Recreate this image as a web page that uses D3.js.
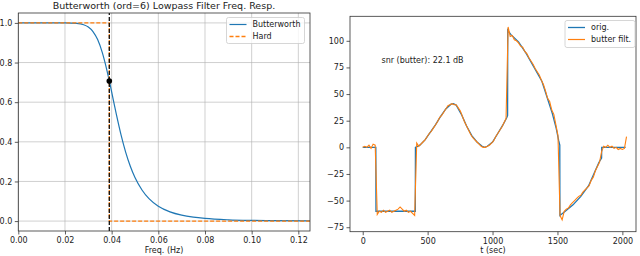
<!DOCTYPE html>
<html>
<head>
<meta charset="utf-8">
<script src="https://cdn.jsdelivr.net/npm/d3@7"></script>
<style>
  body { margin: 0; background: #fff; }
  svg { font-family: "DejaVu Sans", sans-serif; }
</style>
</head>
<body>
<svg id="chart" width="640" height="256"></svg>
<script>
// left: butterworth freq response
const cutoff = 0.039;
const freqs = [0, 0.01, 0.02, 0.025, 0.028, 0.030, 0.032, 0.034, 0.036, 0.038, 0.039, 0.040, 0.042, 0.044,
  0.046, 0.048, 0.050, 0.053, 0.056, 0.060, 0.065, 0.070, 0.075, 0.080, 0.090, 0.100, 0.110, 0.125];
const butterMag = [1, 1, 0.9998, 0.9976, 0.9908, 0.9792, 0.9565, 0.9157, 0.8504, 0.7598, 0.7071, 0.6516, 0.5397, 0.4364,
  0.3482, 0.2766, 0.2196, 0.1568, 0.1133, 0.075, 0.0466, 0.0299, 0.0198, 0.0134, 0.0066, 0.0035, 0.002, 0.0009];
const hardFreq = [0, cutoff, cutoff, 0.125];
const hardMag = [1, 1, 0, 0];
const freqTicks = [0, 0.02, 0.04, 0.06, 0.08, 0.10, 0.12];
const magTicks = [0, 0.2, 0.4, 0.6, 0.8, 1.0];

// right: signal vs filtered signal
const tOrig = [0, 101, 102, 405, 406, 440, 480, 520, 560, 600, 640, 680, 700, 720, 760, 800, 840, 880, 920, 940,
  960, 1000, 1040, 1080, 1110, 1116, 1117, 1140, 1200, 1260, 1320, 1380, 1420, 1460, 1490, 1510, 1518, 1519, 1560, 1620,
  1680, 1740, 1780, 1820, 1840, 1841, 2025];
const vOrig = [0, 0, -60, -60, 0, 2, 7, 14, 21, 29, 36, 40.5, 41, 39.5, 31, 20, 11, 5, 1, 0,
  1, 5, 13, 21, 28, 30, 110, 106, 99, 88, 75, 62, 47, 32, 18, 6, 2, -64, -60, -54,
  -46, -36, -25, -14, -10, 0, 0];
const tFilt = d3.range(0, 2048, 16);
const vFilt = [0, 1, 0, 2, -1, 3, 2,
  -63, -60, -61, -59, -61, -60, -59, -61, -60, -59, -58, -56, -58, -60, -59, -61, -60, -62, -64,
  4, 1, 3, 5, 7, 10, 13, 15, 18, 21, 24, 28, 30, 33, 36, 39, 40, 41, 40, 40, 37, 34, 29, 24, 20, 16,
  12, 9, 7, 5, 3, 1, 0, 0, 1, 2, 4, 6, 10, 13, 16, 19, 23, 27,
  113, 104, 105, 101, 100, 98, 95, 94, 90, 88, 84, 81, 78, 74, 71, 68, 63, 59, 53, 46, 43, 35, 31, 21, 11,
  -64, -68, -60, -58, -57, -54, -52, -50, -48, -46, -45, -42, -40, -38, -36, -31, -28, -22, -18, -14, -4,
  1, 0, 2, 0, 1, -1, 0, -2, -1, -2, -1, 10];
const tTicks = [0, 500, 1000, 1500, 2000];
const sigTicks = [-75, -50, -25, 0, 25, 50, 75, 100];
const snrText = 'snr (butter): 22.1 dB';

const blue = '#1f77b4', orange = '#ff7f0e';
const svg = d3.select('#chart');

function frame(g, x, y) {
  const [x0, x1] = x.range(), [y0, y1] = y.range();
  g.append('rect').attr('x', x0).attr('y', y1).attr('width', x1 - x0).attr('height', y0 - y1)
    .attr('fill', 'none').attr('stroke', '#333').attr('stroke-width', 0.8);
}

function axes(g, x, y, xt, yt, xf, yf) {
  const fmt = v => (v < 0 ? '\u2212' : '') + yf(Math.abs(v));
  g.append('g').attr('transform', `translate(0,${y.range()[0]})`)
    .call(d3.axisBottom(x).tickValues(xt).tickFormat(xf).tickSize(3.5).tickPadding(3))
    .call(s => s.select('.domain').remove());
  g.append('g').attr('transform', `translate(${x.range()[0]},0)`)
    .call(d3.axisLeft(y).tickValues(yt).tickFormat(fmt).tickSize(3.5).tickPadding(2.5))
    .call(s => s.select('.domain').remove());
  g.selectAll('.tick text').attr('font-size', 8).attr('fill', '#222').attr('font-family', 'DejaVu Sans');
  g.selectAll('.tick line').attr('stroke', '#333').attr('stroke-width', 0.8);
}

function legend(g, x, y, w, h, items) {
  g.append('rect').attr('x', x).attr('y', y).attr('width', w).attr('height', h).attr('rx', 2)
    .attr('fill', 'white').attr('fill-opacity', 0.8).attr('stroke', '#ccc').attr('stroke-width', 0.8);
  items.forEach((it, i) => {
    const cy = y + 7 + i * 12;
    g.append('line').attr('x1', x + 3).attr('x2', x + 20).attr('y1', cy).attr('y2', cy)
      .attr('stroke', it.color).attr('stroke-width', it.width).attr('stroke-dasharray', it.dash || null);
    g.append('text').attr('x', x + 26).attr('y', cy).attr('dy', '0.35em')
      .attr('font-size', 8).attr('fill', '#222').text(it.label);
  });
}

// ---- left chart
const xL = d3.scaleLinear().domain([0, 0.125]).range([18.3, 310]);
const yL = d3.scaleLinear().domain([-0.05, 1.05]).range([231, 13]);
const left = svg.append('g');

// grid
left.append('g').selectAll('line').data(freqTicks).join('line')
  .attr('x1', d => xL(d)).attr('x2', d => xL(d)).attr('y1', yL.range()[0]).attr('y2', yL.range()[1])
  .attr('stroke', '#b0b0b0').attr('stroke-width', 0.6);
left.append('g').selectAll('line').data(magTicks).join('line')
  .attr('y1', d => yL(d)).attr('y2', d => yL(d)).attr('x1', xL.range()[0]).attr('x2', xL.range()[1])
  .attr('stroke', '#b0b0b0').attr('stroke-width', 0.6);

const lineL = d3.line().x(d => xL(d[0])).y(d => yL(d[1]));
left.append('path').datum(d3.zip(freqs, butterMag))
  .attr('d', lineL.curve(d3.curveMonotoneX)).attr('fill', 'none').attr('stroke', blue).attr('stroke-width', 1.2);
left.append('path').datum(d3.zip(hardFreq, hardMag))
  .attr('d', d3.line().x(d => xL(d[0])).y(d => yL(d[1]))).attr('fill', 'none')
  .attr('stroke', orange).attr('stroke-width', 1.3).attr('stroke-dasharray', '4,2');
left.append('line').attr('x1', xL(cutoff)).attr('x2', xL(cutoff)).attr('y1', yL.range()[0]).attr('y2', yL.range()[1])
  .attr('stroke', '#111').attr('stroke-width', 1.3).attr('stroke-dasharray', '4,2');
left.append('circle').attr('cx', xL(cutoff)).attr('cy', yL(Math.SQRT1_2)).attr('r', 2.8).attr('fill', '#000');

frame(left, xL, yL);
axes(left, xL, yL, freqTicks, magTicks, d3.format('.2f'), d3.format('.1f'));
left.append('text').attr('x', 164).attr('y', 9).attr('text-anchor', 'middle').attr('font-size', 9.5)
  .attr('fill', '#222').text('Butterworth (ord=6) Lowpass Filter Freq. Resp.');
left.append('text').attr('x', 164).attr('y', 253).attr('text-anchor', 'middle').attr('font-size', 8)
  .attr('fill', '#222').text('Freq. (Hz)');
legend(left, 226.5, 17.5, 78, 26, [
  { label: 'Butterworth', color: blue, width: 1.2 },
  { label: 'Hard', color: orange, width: 1.3, dash: '4,2' }
]);

// ---- right chart
const xR = d3.scaleLinear().domain([-98, 2105]).range([350, 636]);
const yR = d3.scaleLinear().domain([-79.2, 123]).range([231.7, 16.3]);
const right = svg.append('g');
const lineR = d3.line().x(d => xR(d[0])).y(d => yR(d[1]));
right.append('path').datum(d3.zip(tOrig, vOrig)).attr('d', lineR)
  .attr('fill', 'none').attr('stroke', blue).attr('stroke-width', 1.3);
right.append('path').datum(d3.zip(tFilt, vFilt)).attr('d', lineR)
  .attr('fill', 'none').attr('stroke', orange).attr('stroke-width', 1.1);
frame(right, xR, yR);
axes(right, xR, yR, tTicks, sigTicks, d3.format('d'), d3.format('d'));
right.append('text').attr('x', 381.5).attr('y', 60.5).attr('dy', '0.35em').attr('font-size', 8)
  .attr('fill', '#222').text(snrText);
right.append('text').attr('x', 493).attr('y', 253).attr('text-anchor', 'middle').attr('font-size', 8)
  .attr('fill', '#222').text('t (sec)');
legend(right, 565, 20.5, 70, 27, [
  { label: 'orig.', color: blue, width: 1.3 },
  { label: 'butter filt.', color: orange, width: 1.2 }
]);
</script>
</body>
</html>
